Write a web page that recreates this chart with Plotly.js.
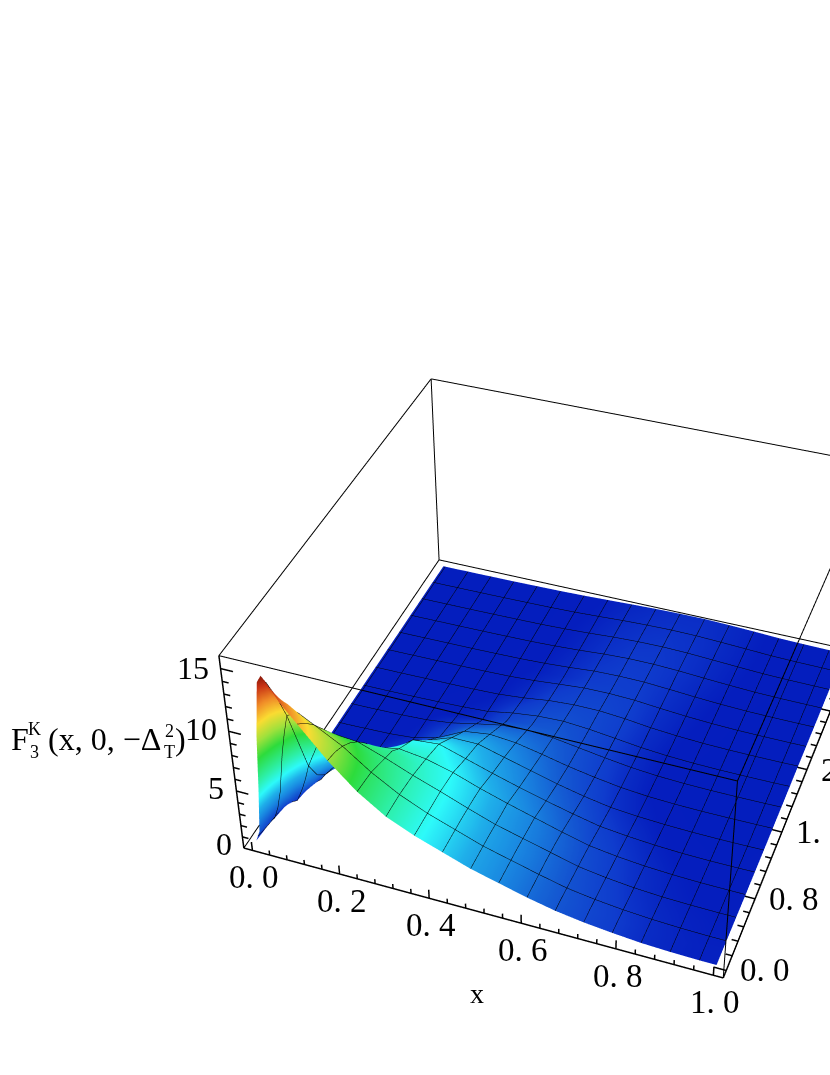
<!DOCTYPE html>
<html>
<head>
<meta charset="utf-8">
<script src="https://cdn.plot.ly/plotly-3.0.1.min.js"></script>
<style>
html, body { margin: 0; padding: 0; background: #fff; overflow: hidden; width: 830px; height: 1075px; }
/* the scene is larger than the window so that the perspective matches; the right side is cut off in the reference too */
#plot { position: absolute; left: -212px; top: -241px; width: 1400px; height: 1746px; }
</style>
</head>
<body>
<div id="plot"></div>
<script>
// grid of the surface
var xGrid = [0, .01, .02, .03, .045, .055, .065, .09, .125, .185, .245, .305, .365, .425, .485, .545, .605, .665, .725, .785, .845, .905, .965, 1];
var yGrid = [0, .133, .267, .4, .533, .667, .8, 1.067, 1.333, 1.6, 2, 2.4, 2.8, 3.2, 3.6, 4];
var zRows = [
  [.3, 1.2, 5, 9.5, 14, 14.6, 14.2, 12.8, 11.4, 9, 7, 5.5, 4.5, 3.7, 2.9, 2.3, 1.7, 1.2, .85, .6, .4, .3, .25, .25],
  [.2, .8, 3, 6, 10.5, 12, 12.2, 11.8, 10.6, 8.8, 6.9, 5.5, 4.5, 3.7, 2.9, 2.3, 1.7, 1.2, .85, .6, .4, .3, .25, .25],
  [.15, .5, 1.5, 3, 6.5, 8.3, 9.8, 10.3, 9.6, 8.4, 6.8, 5.5, 4.5, 3.7, 2.9, 2.3, 1.7, 1.15, .8, .55, .38, .28, .23, .23],
  [.1, .3, .8, 1.5, 3.8, 5.4, 6.8, 8.2, 8.4, 7.8, 6.5, 5.4, 4.5, 3.7, 2.9, 2.3, 1.7, 1.1, .75, .5, .34, .26, .22, .22],
  [.05, .1, .2, .4, 1.6, 2.6, 3.8, 5.8, 7.2, 7, 6.2, 5.3, 4.5, 3.65, 2.85, 2.25, 1.65, 1.05, .7, .45, .3, .23, .2, .2],
  [.03, .05, .1, .2, .8, 1.3, 2.1, 3.6, 4.8, 6, 5.9, 5.1, 4.4, 3.6, 2.8, 2.2, 1.6, 1, .65, .42, .28, .2, .18, .18],
  [.02, .03, .05, .1, .4, .7, 1.2, 2.2, 3.2, 4.8, 5.2, 4.9, 4.3, 3.5, 2.8, 2.15, 1.5, .92, .6, .38, .25, .18, .16, .16],
  [.01, .02, .03, .05, .1, .18, .3, .5, 1, 2.6, 4.2, 4.4, 3.7, 3, 2.35, 1.75, 1.2, .7, .45, .27, .16, .12, .12, .14],
  [0, .01, .02, .03, .05, .07, .1, .15, .3, .8, 2.4, 3.2, 3.2, 2.6, 2, 1.4, .9, .5, .3, .18, .11, .09, .1, .12],
  [0, .01, .01, .02, .03, .04, .06, .08, .12, .3, .9, 2, 2.3, 2.1, 1.65, 1.15, .75, .42, .22, .12, .08, .08, .1, .12],
  [0, 0, .01, .01, .02, .02, .03, .05, .08, .15, .25, .4, .9, 1.15, 1.2, .95, .65, .38, .2, .11, .07, .07, .09, .12],
  [0, 0, 0, .01, .01, .01, .02, .03, .05, .08, .12, .2, .4, .7, .85, .85, .68, .42, .25, .14, .09, .08, .09, .12],
  [0, 0, 0, 0, .01, .01, .02, .03, .04, .06, .1, .15, .25, .4, .6, .65, .62, .46, .3, .18, .11, .09, .09, .1],
  [0, 0, 0, 0, .01, .01, .01, .02, .03, .05, .08, .12, .2, .32, .48, .58, .58, .5, .36, .24, .14, .1, .09, .09],
  [0, 0, 0, 0, 0, .01, .01, .01, .02, .04, .07, .1, .17, .27, .4, .48, .52, .48, .38, .27, .16, .11, .09, .08],
  [0, 0, 0, 0, 0, .01, .01, .01, .02, .03, .06, .09, .14, .22, .3, .37, .41, .42, .36, .27, .16, .11, .08, .07]
];

// height -> colour, rainbow from the picture
var colorHeights = [0, .15, .6, 1.3, 2.2, 3.2, 4.3, 5.5, 7.5, 9, 10.5, 12, 13.5, 14.5, 15];
var colorValues = ['#041ebe', '#051ebe', '#0f3ccd', '#145ad2', '#1984e0', '#1fb0ea', '#2dfafa', '#2df0aa', '#2ddc3c', '#a0e13c', '#fadc32', '#f08c28', '#c83214', '#8c190a', '#8c190a'];

var xMajor = [0, .2, .4, .6, .8, 1];
var xMinor = [.04, .08, .12, .16, .24, .28, .32, .36, .44, .48, .52, .56, .64, .68, .72, .76, .84, .88, .92, .96];
var xLabels = ['0. 0', '0. 2', '0. 4', '0. 6', '0. 8', '1. 0'];
var yMajor = [0, .8, 1.6, 2.4, 3.2, 4];
var yMinor = [.16, .32, .48, .64, .96, 1.12, 1.28, 1.44, 1.76, 1.92, 2.08, 2.24, 2.56, 2.72, 2.88, 3.04, 3.36, 3.52, 3.68, 3.84];
var yLabels = ['0. 0', '0. 8', '1. 6', '2. 4', '3. 2', '4. 0'];
var zMajor = [0, 5, 10, 15];
var zMinor = [1, 2, 3, 4, 6, 7, 8, 9, 11, 12, 13, 14];
var zLabels = ['0', '5', '10', '15'];

var xBox = [-.02, 1.02], yBox = [-.08, 4.08], zBox = [0, 16];
// the scene range is a bit wider than the box, lines right on the range get clipped into dots
var xRange = [-.025, 1.025], yRange = [-.1, 4.1], zRange = [-.08, 16.08];

var colorscale = colorHeights.map(function (h, i) { return [h / 15, colorValues[i]]; });

var FONT = 'Liberation Serif';

// box edges
var frame = { x: [], y: [], z: [] };
function seg(t, a, b) {
    t.x.push(a[0], b[0], null);
    t.y.push(a[1], b[1], null);
    t.z.push(a[2], b[2], null);
}
var x0 = xBox[0], x1 = xBox[1], y0 = yBox[0], y1 = yBox[1], z0 = zBox[0], z1 = zBox[1];
seg(frame, [x0, y1, z0], [x1, y1, z0]);
seg(frame, [x0, y1, z0], [x0, y1, z1]);
seg(frame, [x1, y1, z0], [x1, y1, z1]);
seg(frame, [x0, y0, z1], [x1, y0, z1]);
seg(frame, [x0, y1, z1], [x1, y1, z1]);
seg(frame, [x0, y0, z1], [x0, y1, z1]);
seg(frame, [x1, y0, z1], [x1, y1, z1]);
seg(frame, [x1, y0, z0], [x1, y0, z1]);
seg(frame, [x0, y0, z0], [x0, y1, z0]);

// the three axes with their ticks
var axes = { x: [], y: [], z: [] };
seg(axes, [x0, y0, z0], [x1, y0, z0]);
seg(axes, [x1, y0, z0], [x1, y1, z0]);
seg(axes, [x0, y0, z0], [x0, y0, z1]);
xMajor.forEach(function (v) { seg(axes, [v, y0, z0], [v, y0, z0 + .75]); });
xMinor.forEach(function (v) { seg(axes, [v, y0, z0], [v, y0, z0 + .4]); });
yMajor.forEach(function (v) { seg(axes, [x1, v, z0], [x1 - .025, v, z0]); });
yMinor.forEach(function (v) { seg(axes, [x1, v, z0], [x1 - .013, v, z0]); });
zMajor.forEach(function (v) { seg(axes, [x0, y0, v], [x0 + .027, y0, v]); });
zMinor.forEach(function (v) { seg(axes, [x0, y0, v], [x0 + .014, y0, v]); });

var data = [
    {
        type: 'surface', x: xGrid, y: yGrid, z: zRows,
        colorscale: colorscale, cmin: 0, cmax: 15, showscale: false, hoverinfo: 'skip',
        lighting: { ambient: 1, diffuse: 0, specular: 0, fresnel: 0, roughness: 1 },
        contours: {
            x: { show: true, start: .005, end: .97, size: .06, color: '#000', width: 2, highlight: false },
            y: { show: true, start: .267, end: 3.9, size: .2667, color: '#000', width: 2, highlight: false },
            z: { show: false, highlight: false }
        }
    },
    { type: 'scatter3d', mode: 'lines', x: frame.x, y: frame.y, z: frame.z, line: { color: '#000', width: 2 }, hoverinfo: 'skip', showlegend: false },
    { type: 'scatter3d', mode: 'lines', x: axes.x, y: axes.y, z: axes.z, line: { color: '#000', width: 3 }, hoverinfo: 'skip', showlegend: false }
];

var notes = [];
function note(x, y, z, text, size, dx, dy) {
    notes.push({
        x: x, y: y, z: z, text: text, showarrow: false,
        font: { family: FONT, size: size, color: '#000' },
        xanchor: 'center', yanchor: 'middle', xshift: dx, yshift: dy
    });
}
xMajor.forEach(function (v, i) { note(v, y0, z0, xLabels[i], 33, 2, -27); });
yMajor.forEach(function (v, i) { note(x1, v, z0, yLabels[i], 33, 39, 0); });
zMajor.forEach(function (v, i) {
    note(x0, y0, v, zLabels[i], 32, -12 - zLabels[i].length * 8, 4 - v * .2);
});
note(.5, y0, z0, 'x', 28, 2, -83);
// stacked sub and superscripts are separate pieces, plotly cannot stack them
var zMid = 8;
note(x0, y0, zMid, 'F', 32, -212, 17);
note(x0, y0, zMid, 'K', 18, -197, 27);
note(x0, y0, zMid, '3', 18, -197, 4);
note(x0, y0, zMid, '(x, 0, \u2212\u0394', 32, -127, 17);
note(x0, y0, zMid, '2', 18, -62, 25);
note(x0, y0, zMid, 'T', 18, -62, 4);
note(x0, y0, zMid, ')', 32, -51, 17);

var hidden = {
    visible: false, autorange: false, showgrid: false, zeroline: false, showline: false,
    showticklabels: false, showbackground: false, showspikes: false
};
function axis(range) { return Object.assign({ range: range }, hidden); }

var layout = {
    width: 1400, height: 1746,
    margin: { l: 0, r: 0, t: 0, b: 0 },
    paper_bgcolor: '#fff',
    showlegend: false,
    scene: {
        domain: { x: [0, 1], y: [0, 1] },
        bgcolor: '#fff',
        aspectmode: 'manual',
        aspectratio: { x: 1.0096, y: 1.04, z: .505 },
        camera: {
            eye: { x: 1.1223, y: -3.1439, z: 2.7255 },
            center: { x: -.1553, y: -.0319, z: .0368 },
            up: { x: -.2126, y: .5876, z: .7805 },
            projection: { type: 'perspective' }
        },
        xaxis: axis(xRange),
        yaxis: axis(yRange),
        zaxis: axis(zRange),
        annotations: notes
    }
};

Plotly.newPlot('plot', data, layout, { displayModeBar: false, responsive: false });
</script>
</body>
</html>
